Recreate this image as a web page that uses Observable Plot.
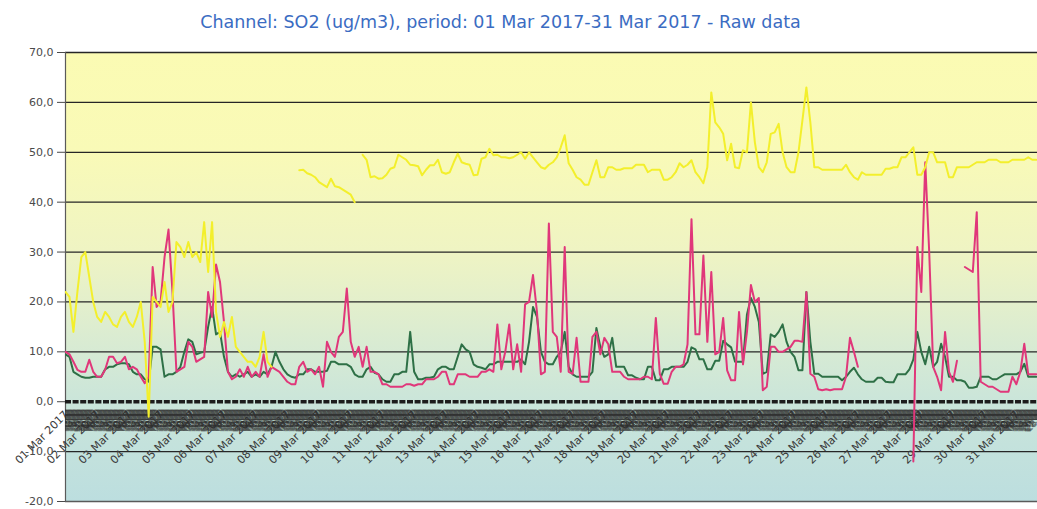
<!DOCTYPE html>
<html><head><meta charset="utf-8">
<script src="https://cdn.jsdelivr.net/npm/d3@7"></script>
<script src="https://cdn.jsdelivr.net/npm/@observablehq/plot@0.6"></script>
<style>
html,body{margin:0;padding:0;background:#fff;overflow:hidden;}
#chart{width:1037px;height:509px;}
</style></head><body><div id="chart"></div>
<script>
const title = "Channel: SO2 (ug/m3), period: 01 Mar 2017-31 Mar 2017 - Raw data";
const yTicks = [-20, -10, 0, 10, 20, 30, 40, 50, 60, 70];
const dayLabels = ["01 Mar 2017","02 Mar 2017","03 Mar 2017","04 Mar 2017","05 Mar 2017","06 Mar 2017","07 Mar 2017","08 Mar 2017","09 Mar 2017","10 Mar 2017","11 Mar 2017","12 Mar 2017","13 Mar 2017","14 Mar 2017","15 Mar 2017","16 Mar 2017","17 Mar 2017","18 Mar 2017","19 Mar 2017","20 Mar 2017","21 Mar 2017","22 Mar 2017","23 Mar 2017","24 Mar 2017","25 Mar 2017","26 Mar 2017","27 Mar 2017","28 Mar 2017","29 Mar 2017","30 Mar 2017","31 Mar 2017"];
const stepHours = 3; // one value every 3 hours from 01 Mar 2017 00:00

// series values, 8 per day
const green = [
  9.5, 9, 6, 5.5, 5, 4.8, 4.8, 5,
  5, 5, 6.5, 7, 7, 7.5, 7.7, 7.7,
  7.5, 6, 5.5, 5.5, 4.5, 4, 11, 11,
  10.5, 5, 5.5, 5.5, 6, 7, 10, 12.5,
  12, 9.5, 9.8, 10, 15, 19, 13.5, 14,
  9, 6, 5, 5.5, 5, 5.5, 6, 5,
  5.5, 5, 6, 5.5, 7, 10, 8, 6.5,
  5.5, 5, 4.8, 5.5, 5.5, 6.5, 6.5, 6,
  6, 6, 6.2, 8, 8, 7.5, 7.5, 7.5,
  7, 5.5, 5, 5, 6.5, 7, 5.8, 5.5,
  4.5, 4, 4, 5.5, 5.5, 6, 6, 14,
  6, 4.5, 4.5, 4.8, 4.8, 5, 6.5, 7,
  7, 6.5, 6.5, 9, 11.5, 10.5, 10, 7.5,
  7, 6.8, 6.5, 7.5, 7.5, 8, 8, 8,
  8, 8, 8, 8.5, 7.5, 12, 19, 17,
  10, 8, 7.5, 7.5, 9, 10, 14, 7,
  5.5, 5, 5, 5, 5, 6, 14.8, 11,
  9, 9.5, 12.8, 7, 7, 7, 5.3, 5.3,
  4.8, 4.5, 4.5, 7, 7, 4.3, 4.3, 6.5,
  6.5, 7, 7, 7, 7, 8, 10.9, 10.5,
  8.5, 8.5, 6.5, 6.5, 8.2, 8.2, 12.2, 11.5,
  10.9, 8, 8, 8, 17.5, 20.8, 19, 16,
  5.6, 6, 13.5, 13, 14, 15.5, 12, 10,
  9, 6.3, 6.3, 22, 12, 5.6, 5.6, 5,
  5, 5, 5, 5, 4.3, 5, 6, 6.8,
  5.5, 4.5, 4, 4, 4, 4.8, 4.8, 4,
  3.9, 3.9, 5.5, 5.5, 5.5, 6.5, 8.5, 14,
  10, 7.5, 11, 7, 8, 11.6, 9, 5,
  5, 4.3, 4.3, 4, 2.8, 2.8, 3, 5,
  5, 5, 4.5, 4.5, 5, 5.5, 5.5, 5.5,
  5.5, 6, 7.6, 5, 5, 5
];
const pink = [
  10, 9.5, 8, 6.4, 6, 6, 8.4, 6,
  5, 5, 6.4, 9, 9, 7.7, 8, 9,
  6.5, 7, 6.5, 5, 3.7, 5, 27, 19,
  20, 29, 34.5, 22, 6, 6.5, 7, 12,
  11, 8, 8.5, 9, 22, 17, 27.5, 24,
  16, 6, 4.5, 5, 6.5, 5, 7, 5,
  6, 5, 9.5, 5, 7, 6.5, 6, 5,
  4, 3.5, 3.5, 7, 8, 6, 6.5, 5.5,
  7, 3, 12, 10, 9, 13, 14, 22.7,
  12, 9, 11, 7, 11, 6, 6, 5.5,
  3.5, 3.5, 3, 3, 3, 3, 3.5, 3.5,
  3.2, 3.5, 3.5, 4.5, 4.5, 4.5, 5, 6,
  6, 3.5, 3.5, 5.5, 5.5, 5.5, 5, 5,
  5, 6, 6, 6.5, 6, 15.5, 6.5, 10,
  15.5, 6.5, 11.5, 6, 19.5, 20, 25.4, 18,
  5.5, 6, 35.7, 14, 13, 6, 31, 6,
  5.6, 12.8, 4, 4, 4, 13, 14, 9.5,
  12.8, 11.5, 6, 6, 6, 5, 4.5, 4.5,
  4.5, 4.5, 5, 5, 4.5, 16.8, 5.6, 3.6,
  3.6, 6, 7, 7, 7.5, 11.5, 36.6, 13.5,
  13.5, 29.3, 12, 26, 9.5, 10, 16.8, 6.3,
  4.3, 4.3, 18, 7.5, 14, 23.4, 20, 20.8,
  2.3, 3, 11, 11, 10, 10, 10.5, 11,
  12.2, 12.2, 12, 22, 5.6, 5, 2.5, 2.3,
  2.5, 2.3, 2.5, 2.5, 2.5, 5, 12.8, 10,
  7, null, null, null, null, null, null, null,
  null, null, null, null, null, null, -12, 31,
  22, 48, 30, 7, 5, 2.3, 14, 6,
  4, 8.2, null, 27, 26.5, 26, 38, 4,
  3.5, 3, 3, 2.5, 2, 2, 2, 5,
  3.5, 6, 11.6, 5.5, 5.5, 5.5
];
const yellow = [
  22, 21, 14, 22, 29, 30, 25, 20,
  17, 16, 18, 17, 15.5, 15, 17, 18,
  16, 15, 17, 20, 12, -3, 21, 20,
  19, 24, 18, 20, 32, 31, 29, 32,
  29, 30, 28, 36, 26, 36, 18, 13,
  16, 13, 17, 11, 10, 9, 8, 8,
  7, 9, 14, 8, 7, null, null, null,
  null, null, null, 46.4, 46.5, 45.8, 45.5, 45,
  44, 43.5, 43, 44.7, 43.2, 43, 42.5, 42,
  41.5, 40, null, 49.5, 48.5, 45, 45.2, 44.7,
  44.8, 45.5, 46.7, 47, 49.5, 49, 48.5, 47.5,
  47.4, 47.2, 45.4, 46.5, 47.4, 47.4, 48.5, 46,
  45.7, 46, 48, 49.7, 48, 47.7, 47.5, 45.4,
  45.5, 48.7, 49, 50.7, 49.4, 49.5, 49, 49,
  48.8, 49, 49.5, 50, 48.7, 50, 49, 48,
  47, 46.7, 47.5, 48, 49, 51, 53.4, 47.8,
  46.5, 45, 44.5, 43.5, 43.5, 46, 48.4, 45,
  45, 47, 47, 46.5, 46.5, 46.8, 46.8, 46.8,
  47.5, 47.5, 47.5, 46, 46.5, 46.5, 46.5, 44.5,
  44.5, 45, 46, 47.8, 47, 47.5, 48.4, 46,
  45, 43.8, 47, 62, 56, 55, 53.7, 48.4,
  51.7, 47, 46.8, 50.4, 50, 60, 52, 47,
  46, 48, 53.7, 54, 55.7, 50, 47, 46,
  46, 50, 56.4, 63, 56, 47, 47, 46.5,
  46.5, 46.5, 46.5, 46.5, 46.5, 47.5, 46, 45,
  44.5, 46, 45.5, 45.5, 45.5, 45.5, 45.5, 46.7,
  46.7, 47, 47, 49, 49, 50, 51, 45.5,
  45.5, 47, 50, 50, 48, 48, 48, 45,
  45, 47, 47, 47, 47, 47.5, 48, 48,
  48, 48.5, 48.5, 48.5, 48, 48, 48, 48.5,
  48.5, 48.5, 48.5, 49, 48.5, 48.5
];

const t0 = Date.UTC(2017, 2, 1);
const at = k => new Date(t0 + k * stepHours * 3600e3);
const series = (vals) => vals.map((v, k) => ({date: at(k), value: v}));
const greenRows = series(green), pinkRows = series(pink), yellowRows = series(yellow);

const dayRows = dayLabels.map((label, i) => ({date: new Date(t0 + i * 864e5), label}));
const hourRows = d3.utcHour.range(new Date(t0), new Date(Date.UTC(2017, 3, 1)))
  .filter(d => d.getUTCHours() !== 0)
  .map(d => ({date: d, label: d3.utcFormat("%H:%M")(d)}));

const fmt = d => d.toFixed(1).replace(".", ",");

const plot = Plot.plot({
  width: 1037, height: 509,
  marginLeft: 65, marginRight: 0, marginTop: 52, marginBottom: 8,
  style: {fontFamily: "'DejaVu Sans', sans-serif", background: "#fff", overflow: "hidden"},
  x: {type: "utc", domain: [new Date(t0), new Date(Date.UTC(2017, 2, 31, 16))], axis: null},
  y: {domain: [-20, 70], axis: null},
  marks: [
    Plot.frame({fill: "url(#bgGrad)", stroke: null}),
    Plot.ruleY(yTicks.filter(d => d !== 0 && d !== -20), {stroke: "#262626", strokeWidth: 1.3}),
    Plot.ruleY([-20], {stroke: "#5a5a5a", strokeWidth: 1.3}),
    Plot.ruleX([new Date(t0)], {stroke: "#5a5a5a", strokeWidth: 1.2}),
    Plot.text(dayRows, {x: "date", y: () => 0, text: "label", rotate: -45, textAnchor: "end", dy: 11, dx: 1, fontSize: 11, fill: "#3a3a3a"}),
    Plot.text(hourRows, {x: "date", y: () => 0, text: "label", rotate: -45, textAnchor: "end", dy: 9, fontSize: 9.5, fill: "#2e2e2e", fillOpacity: 0.7, clip: true}),
    Plot.ruleY([0], {stroke: "#1c1c1c", strokeWidth: 3.5, strokeDasharray: "6,1.6"}),
    Plot.line(greenRows, {x: "date", y: "value", stroke: "#2e7046", strokeWidth: 2, clip: true}),
    Plot.line(pinkRows, {x: "date", y: "value", stroke: "#e0377a", strokeWidth: 2, clip: true}),
    Plot.line(yellowRows, {x: "date", y: "value", stroke: "#f3ef2c", strokeWidth: 2, clip: true}),
    Plot.axisY(yTicks, {tickFormat: fmt, tickSize: 8, tickPadding: 4, fontSize: 11, color: "#4a4a4a", label: null}),
    Plot.text([title], {frameAnchor: "top-left", dx: 435, dy: -30, lineAnchor: "middle", textAnchor: "middle", fill: "#3b6cc2", fontSize: 17.5})
  ]
});

const ns = "http://www.w3.org/2000/svg";
const defs = document.createElementNS(ns, "defs");
const grad = document.createElementNS(ns, "linearGradient");
grad.setAttribute("id", "bgGrad");
grad.setAttribute("x1", "0"); grad.setAttribute("y1", "0");
grad.setAttribute("x2", "0"); grad.setAttribute("y2", "1");
[[0, "#fbfbb3"], [0.22, "#f9fab7"], [0.44, "#eff4c3"], [0.56, "#e3efcc"], [0.67, "#d6ead4"], [0.78, "#cae5da"], [1, "#bcdedf"]].forEach(([o, c]) => {
  const s = document.createElementNS(ns, "stop");
  s.setAttribute("offset", o); s.setAttribute("stop-color", c);
  grad.appendChild(s);
});
defs.appendChild(grad);
plot.insertBefore(defs, plot.firstChild);
document.getElementById("chart").appendChild(plot);
</script>
</body></html>
